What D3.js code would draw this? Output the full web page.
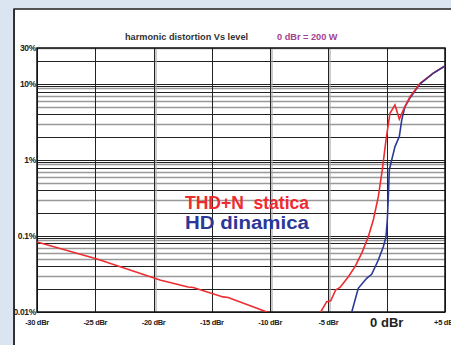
<!DOCTYPE html>
<html>
<head>
<meta charset="utf-8">
<script src="https://cdn.jsdelivr.net/npm/d3@7"></script>
<style>
  html, body { margin: 0; padding: 0; background: #dbe5f1; }
  svg { display: block; }
  text { font-family: "Liberation Sans", Arial, sans-serif; white-space: pre; }
</style>
</head>
<body>
<div id="chart"></div>
<script>
// Data (level in dBr, distortion in %)
var thdLevel  = [-30, -24.85, -19.45, -17.05, -16.6, -14.04, -13.6, -10.27];
var thdValue  = [0.0835, 0.0499, 0.0264, 0.0213, 0.021, 0.0158, 0.0155, 0.01];
var thdHiLevel = [-5.66, -5.15, -4.8, -4.38, -4.01, -3.29, -2.72, -2.15, -1.58, -1.15, -0.72, -0.38, -0.06, 0.28, 0.71, 1.08, 1.42, 2.0, 2.86, 4.0, 4.92, 5];
var thdHiValue = [0.01, 0.0137, 0.014, 0.0195, 0.0211, 0.0292, 0.0395, 0.0593, 0.098, 0.163, 0.33, 0.743, 1.85, 4.15, 5.34, 3.46, 4.58, 6.87, 10.3, 14.0, 17.1, 17.3];
var hdLevel = [-3.0, -2.44, -1.72, -1.29, -0.72, -0.29, -0.06, 0.05, 0.14, 0.22, 0.43, 0.71, 1.08, 1.29, 1.57, 2.0, 2.86, 4.0, 4.92, 5];
var hdValue = [0.01, 0.0205, 0.0278, 0.0314, 0.0484, 0.0724, 0.098, 0.163, 0.33, 0.743, 1.01, 1.51, 2.04, 3.39, 5.07, 6.6, 10.1, 14.0, 17.1, 17.3];

var xTicks = [-30, -25, -20, -15, -10, -5, 0, 5];
var xTickLabels = ["-30 dBr", "-25 dBr", "-20 dBr", "-15 dBr", "-10 dBr", "-5 dBr", "0 dBr", "+5 dBr"];
var yTicks = [30, 10, 1, 0.1, 0.01];
var yTickLabels = ["30%", "10%", "1%", "0.1%", "0.01%"];
var minorMult = [2, 3, 4, 5, 6, 7, 8, 9];

var W = 451, H = 345;
var margin = {top: 48, right: 6, bottom: 33, left: 37};

var svg = d3.select("#chart").append("svg")
            .attr("width", W)
            .attr("height", H);

// white panel
svg.append("rect").attr("x", 14).attr("y", 9).attr("width", W).attr("height", H)
   .attr("fill", "#fff");
svg.append("path").attr("d", "M14," + H + "V9H" + W)
   .attr("fill", "none").attr("stroke", "#222").attr("stroke-width", 1.5);

var xScale = d3.scaleLinear().domain([-30, 5]).range([margin.left, W - margin.right]);
var yScale = d3.scaleLog().domain([0.01, 30]).range([H - margin.bottom, margin.top]);

var g = svg.append("g");

// horizontal grid (log)
var hLines = [];
[0.01, 0.1, 1, 10].forEach(function(dec) {
  hLines.push({v: dec, major: true});
  minorMult.forEach(function(m) {
    if (dec * m <= 30) hLines.push({v: dec * m, major: (m == 2 || m == 4 || m == 8)});
  });
});
g.selectAll("line.h").data(hLines).enter().append("line")
  .attr("x1", xScale(-30)).attr("x2", xScale(5))
  .attr("y1", function(d) { return Math.round(yScale(d.v)) + 0.5; })
  .attr("y2", function(d) { return Math.round(yScale(d.v)) + 0.5; })
  .attr("stroke", function(d) { return d.major ? "#222" : "#999"; })
  .attr("stroke-width", function(d) { return d.major ? 1 : 1.3; });

// extra line just under decades
g.selectAll("line.d").data([10, 1, 0.1]).enter().append("line")
  .attr("x1", xScale(-30)).attr("x2", xScale(5))
  .attr("y1", function(d) { return Math.round(yScale(d)) + 2.5; })
  .attr("y2", function(d) { return Math.round(yScale(d)) + 2.5; })
  .attr("stroke", "#222").attr("stroke-width", 1);

// vertical grid
g.selectAll("line.v").data(xTicks).enter().append("line")
  .attr("x1", function(d) { return Math.round(xScale(d)) + 0.5; })
  .attr("x2", function(d) { return Math.round(xScale(d)) + 0.5; })
  .attr("y1", yScale(30)).attr("y2", yScale(0.01))
  .attr("stroke", "#222").attr("stroke-width", 1);
g.selectAll("line.vg").data([-20, -10, -5]).enter().append("line")
  .attr("x1", function(d) { return Math.round(xScale(d)) + 2; })
  .attr("x2", function(d) { return Math.round(xScale(d)) + 2; })
  .attr("y1", yScale(30)).attr("y2", yScale(0.01))
  .attr("stroke", "#aaa").attr("stroke-width", 1.2);

// frame
g.append("rect")
  .attr("x", xScale(-30)).attr("y", yScale(30))
  .attr("width", xScale(5) - xScale(-30)).attr("height", yScale(0.01) - yScale(30))
  .attr("fill", "none").attr("stroke", "#111").attr("stroke-width", 1.5);

// curves
svg.append("clipPath").attr("id", "plotclip").append("rect")
  .attr("x", xScale(-30)).attr("y", yScale(30))
  .attr("width", xScale(5) - xScale(-30)).attr("height", yScale(0.01) - yScale(30));

var line = d3.line()
  .x(function(d) { return xScale(d[0]); })
  .y(function(d) { return yScale(d[1]); });

var curves = svg.append("g").attr("clip-path", "url(#plotclip)");
curves.append("path").datum(d3.zip(hdLevel, hdValue))
  .attr("d", line).attr("fill", "none").attr("stroke", "#2b3897").attr("stroke-width", 1.6);
curves.append("path").datum(d3.zip(thdLevel, thdValue))
  .attr("d", line).attr("fill", "none").attr("stroke", "#ee2b2f").attr("stroke-width", 1.6);
curves.append("path").datum(d3.zip(thdHiLevel, thdHiValue))
  .attr("d", line).attr("fill", "none").attr("stroke", "#ee2b2f").attr("stroke-width", 1.6);
// blue on top at the end, where curves merge
curves.append("path").datum(d3.zip(hdLevel.slice(16), hdValue.slice(16)))
  .attr("d", line).attr("fill", "none").attr("stroke", "#2b3897").attr("stroke-width", 1.2);

// y labels
svg.append("g").selectAll("text").data(yTicks).enter().append("text")
  .attr("x", margin.left - 1)
  .attr("y", function(d) { return yScale(d) + 3; })
  .attr("text-anchor", "end")
  .attr("font-size", 8.5).attr("font-weight", "bold").attr("fill", "#222")
  .attr("letter-spacing", -0.3)
  .text(function(d, i) { return yTickLabels[i]; });

// left strip covers the start of the lowest label, like the panel edge
svg.append("rect").attr("x", 0).attr("y", 0).attr("width", 13.2).attr("height", H).attr("fill", "#dbe5f1");
svg.append("line").attr("x1", 14).attr("x2", 14).attr("y1", 9).attr("y2", H)
   .attr("stroke", "#222").attr("stroke-width", 1.5);

// x labels
svg.append("g").selectAll("text").data(xTicks).enter().append("text")
  .attr("x", function(d) { return xScale(d); })
  .attr("y", function(d) { return d == 0 ? 327 : 325; })
  .attr("text-anchor", "middle")
  .attr("font-size", function(d) { return d == 0 ? 13 : 7.5; })
  .attr("font-weight", "bold").attr("fill", "#222")
  .attr("letter-spacing", function(d) { return d == 0 ? 0 : -0.3; })
  .text(function(d, i) { return xTickLabels[i]; });

// title
svg.append("text").attr("x", 125).attr("y", 40)
  .attr("font-size", 9.2).attr("font-weight", "bold").attr("fill", "#333")
  .text("harmonic distortion Vs level");
svg.append("text").attr("x", 277).attr("y", 40)
  .attr("font-size", 9.2).attr("font-weight", "bold").attr("fill", "#a4418f")
  .text("0 dBr = 200 W");

// legend
svg.append("text").attr("x", 185).attr("y", 208.5)
  .attr("font-size", 17.5).attr("font-weight", "bold").attr("fill", "#ee2b2f")
  .attr("textLength", 124).attr("lengthAdjust", "spacingAndGlyphs")
  .text("THD+N  statica");
svg.append("text").attr("x", 185).attr("y", 228.5)
  .attr("font-size", 17.5).attr("font-weight", "bold").attr("fill", "#2b3897")
  .attr("textLength", 124).attr("lengthAdjust", "spacingAndGlyphs")
  .text("HD dinamica");
</script>
</body>
</html>
